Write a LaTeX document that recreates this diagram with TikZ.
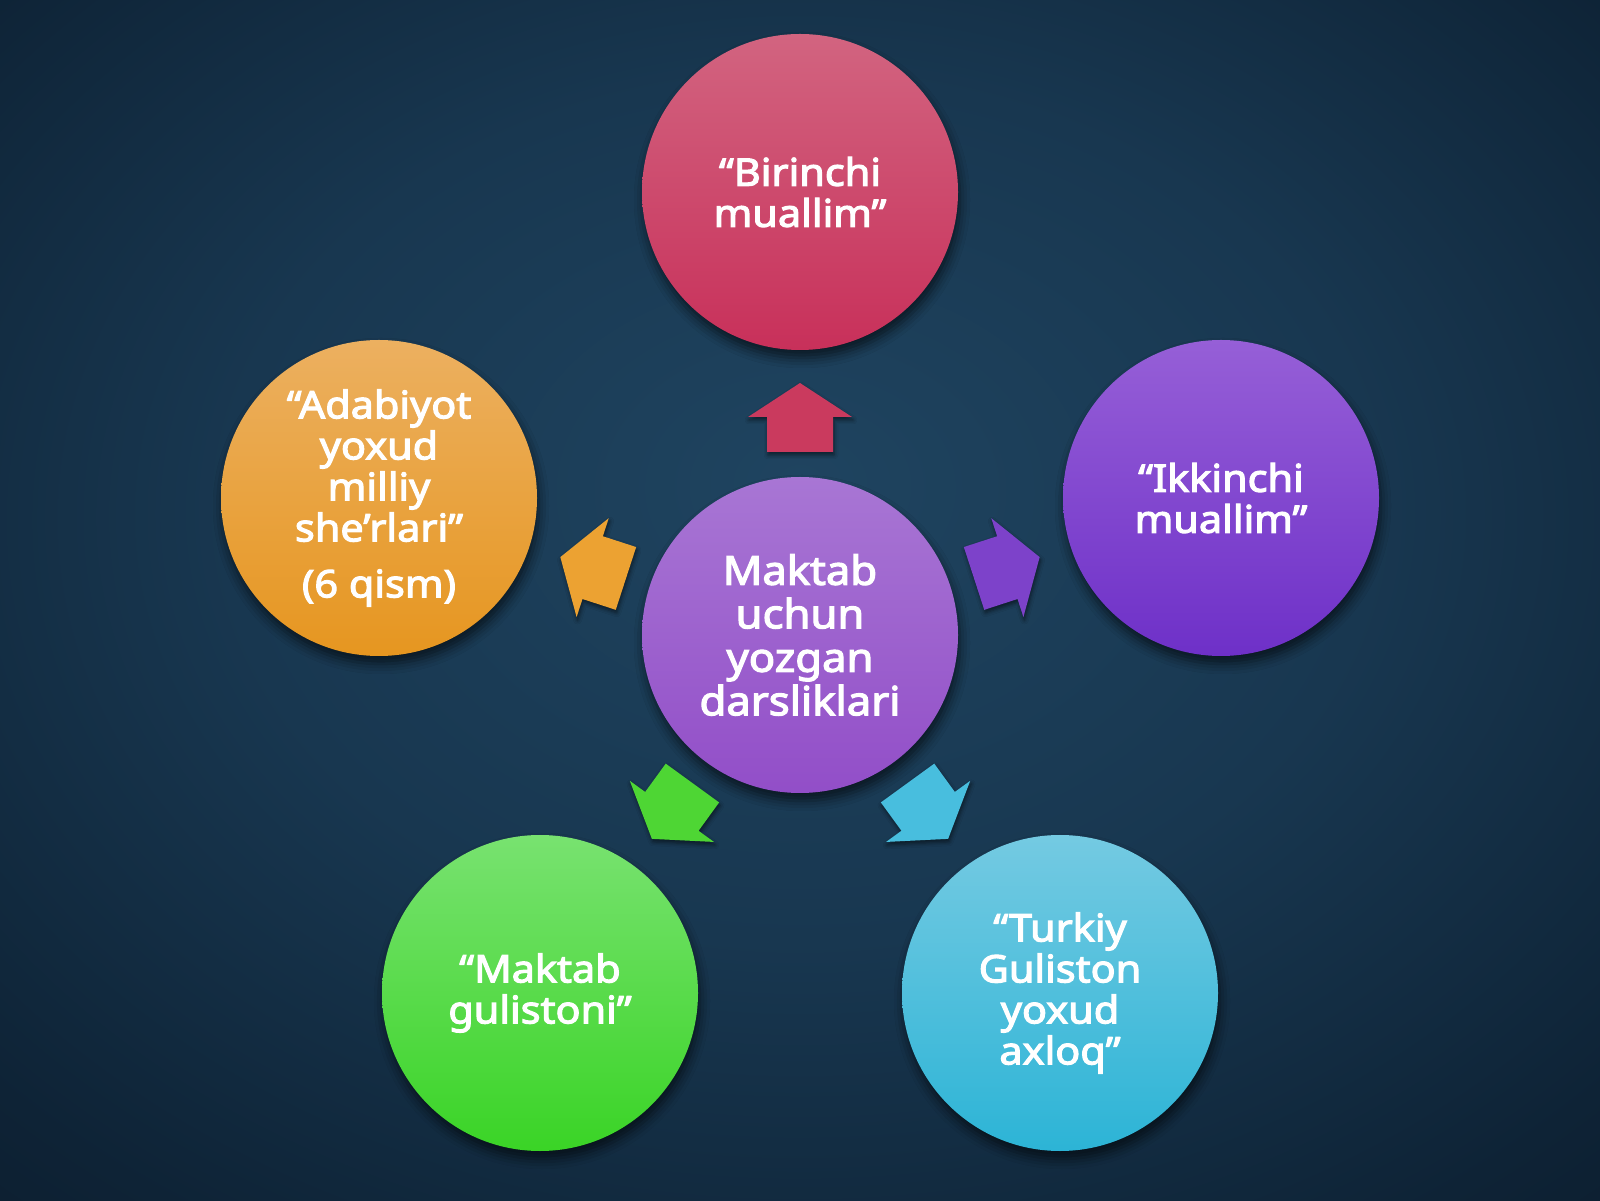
\documentclass[tikz,border=0pt]{standalone}
\usepackage{fontspec}
\setmainfont{Noto Sans}[AutoFakeBold=3, FakeStretch=1.09]
\usetikzlibrary{shadows.blur,calc}
\definecolor{bgA}{RGB}{31,68,96}
\definecolor{bgB}{RGB}{24,55,80}
\definecolor{bgC}{RGB}{14,35,54}
\definecolor{bgD}{RGB}{8,20,33}
\definecolor{bgE}{RGB}{4,9,16}
\definecolor{redT}{RGB}{210,100,128}
\definecolor{redB}{RGB}{200,48,90}
\definecolor{cenT}{RGB}{168,118,212}
\definecolor{cenB}{RGB}{146,78,200}
\definecolor{purT}{RGB}{150,95,215}
\definecolor{purB}{RGB}{110,48,200}
\definecolor{oraT}{RGB}{236,176,96}
\definecolor{oraB}{RGB}{230,150,32}
\definecolor{grnT}{RGB}{120,226,112}
\definecolor{grnB}{RGB}{58,212,38}
\definecolor{cyaT}{RGB}{116,202,226}
\definecolor{cyaB}{RGB}{44,180,214}
\definecolor{redA}{RGB}{202,58,94}
\definecolor{purA}{RGB}{125,66,202}
\definecolor{cyaA}{RGB}{72,190,222}
\definecolor{grnA}{RGB}{78,214,52}
\definecolor{oraA}{RGB}{236,162,50}
\pgfdeclareradialshading{bgshade}{\pgfpoint{0bp}{5bp}}{color(0bp)=(bgA); color(18bp)=(bgB); color(34bp)=(bgC); color(50bp)=(bgD); color(72bp)=(bgE)}
\newcommand\radarrow[2]{%
  \fill[#2, arrowsty] ($(C)+(#1:183)+(#1-90:33)$) -- ($(C)+(#1:218)+(#1-90:33)$) -- ($(C)+(#1:218)+(#1-90:52)$) -- ($(C)+(#1:252)$) -- ($(C)+(#1:218)+(#1+90:52)$) -- ($(C)+(#1:218)+(#1+90:33)$) -- ($(C)+(#1:183)+(#1+90:33)$) -- cycle;}
\begin{document}
\begin{tikzpicture}[x=1pt,y=1pt,
  bubble/.style={circle, minimum size=316pt, inner sep=0pt, text=white, align=center,
    font=\fontsize{38pt}{41pt}\selectfont\bfseries,
    blur shadow={shadow xshift=2pt, shadow yshift=-8pt, shadow blur radius=10pt, shadow opacity=60}},
  arrowsty/.style={blur shadow={shadow xshift=1pt, shadow yshift=-3pt, shadow blur radius=4pt, shadow opacity=55}}]
\path[shading=bgshade] (0,0) rectangle (1600,1200);
\useasboundingbox (0,0) rectangle (1600,1200);
\coordinate (C) at (800,565);
\radarrow{90}{redA}
\radarrow{18}{purA}
\radarrow{-54}{cyaA}
\radarrow{-126}{grnA}
\radarrow{162}{oraA}
\node[bubble, top color=cenT, bottom color=cenB, font=\fontsize{40pt}{43.5pt}\selectfont\bfseries] (center) at (C) {Maktab\\uchun\\yozgan\\darsliklari};
\node[bubble, top color=redT, bottom color=redB] (top) at (800,1008) {“Birinchi\\muallim”};
\node[bubble, top color=purT, bottom color=purB] (right) at (1221,702) {“Ikkinchi\\muallim”};
\node[bubble, top color=cyaT, bottom color=cyaB] (bright) at (1060,207) {“Turkiy\\Guliston\\yoxud\\axloq”};
\node[bubble, top color=grnT, bottom color=grnB] (bleft) at (540,207) {“Maktab\\gulistoni”};
\node[bubble, top color=oraT, bottom color=oraB] (left) at (379,702) {“Adabiyot\\yoxud\\milliy\\she’rlari”\\[15pt](6 qism)};
\end{tikzpicture}
\end{document}
